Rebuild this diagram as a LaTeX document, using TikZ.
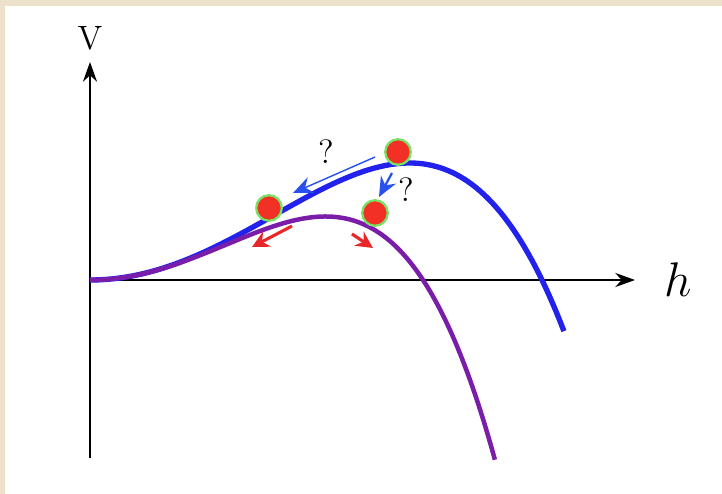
\documentclass[tikz,border=0pt]{standalone}
\usepackage{amsmath}
\usetikzlibrary{arrows.meta,positioning}
\definecolor{parchment}{RGB}{236,226,203}
\definecolor{potblue}{RGB}{34,34,236}
\definecolor{potpurple}{RGB}{122,30,170}
\definecolor{askblue}{RGB}{40,80,240}
\definecolor{ballred}{RGB}{242,48,38}
\definecolor{ballrim}{RGB}{120,226,100}
\definecolor{pushred}{RGB}{232,40,40}

\begin{document}
\begin{tikzpicture}[x=1.25cm, y=1.25cm,
    axis/.style={line width=0.7pt, -{Stealth[length=7pt, width=5pt]}},
    ball/.style={circle, fill=ballred, draw=ballrim, line width=0.8pt, minimum size=0.32cm, inner sep=0pt},
    askarrow/.style={askblue, line width=0.5pt, -{Stealth[length=7pt, width=6pt]}},
    pusharrow/.style={pushred, line width=1.1pt, -{Stealth[length=6pt, width=6pt]}}]
    % background
    \fill[parchment] (-0.9,2.8) rectangle (6.32,-2.14);
    \fill[white] (-0.85,2.74) rectangle (6.32,-2.14);
    \useasboundingbox (-0.9,2.8) rectangle (6.32,-2.14);

    % axes
    \coordinate (O) at (0,0);
    \coordinate (ybot) at (0,-1.78);
    \coordinate (ytop) at (0,2.18);
    \coordinate (xend) at (5.45,0);
    \draw[line width=0.7pt] (O) -- (ybot);
    \draw[axis] (O) -- (ytop);
    \draw[axis] (O) -- (xend);
    \node (vlabel) at (0,2.42) {\large V};
    \node (hlabel) at (5.88,0) {\LARGE $h$};

    % potentials
    \draw[potblue, line width=1.9pt, domain=0:4.74, samples=120]
        plot (\x, {0.2291*\x*\x*(1-\x*\x/20.43)});
    \draw[potpurple, line width=1.6pt, domain=0:4.05, samples=120]
        plot (\x, {0.2291*\x*\x*(1-\x*\x/11.09)});

    % balls
    \node[ball] (top) at (3.08,1.28) {};
    \node[ball] (left) at (1.79,0.72) {};
    \node[ball] (right) at (2.85,0.67) {};

    % blue arrows
    \coordinate (a1s) at (2.85,1.23);
    \coordinate (a1e) at (2.03,0.87);
    \coordinate (a2s) at (3.02,1.07);
    \coordinate (a2e) at (2.89,0.83);
    \draw[askarrow] (a1s) -- (a1e);
    \draw[askarrow, line width=0.8pt] (a2s) -- (a2e);
    \node (q1) at (2.36,1.28) {\large ?};
    \node (q2) at (3.16,0.90) {\large ?};

    % red arrows
    \coordinate (r1s) at (2.02,0.54);
    \coordinate (r1e) at (1.62,0.33);
    \coordinate (r2s) at (2.62,0.46);
    \coordinate (r2e) at (2.83,0.32);
    \draw[pusharrow] (r1s) -- (r1e);
    \draw[pusharrow] (r2s) -- (r2e);
\end{tikzpicture}
\end{document}
